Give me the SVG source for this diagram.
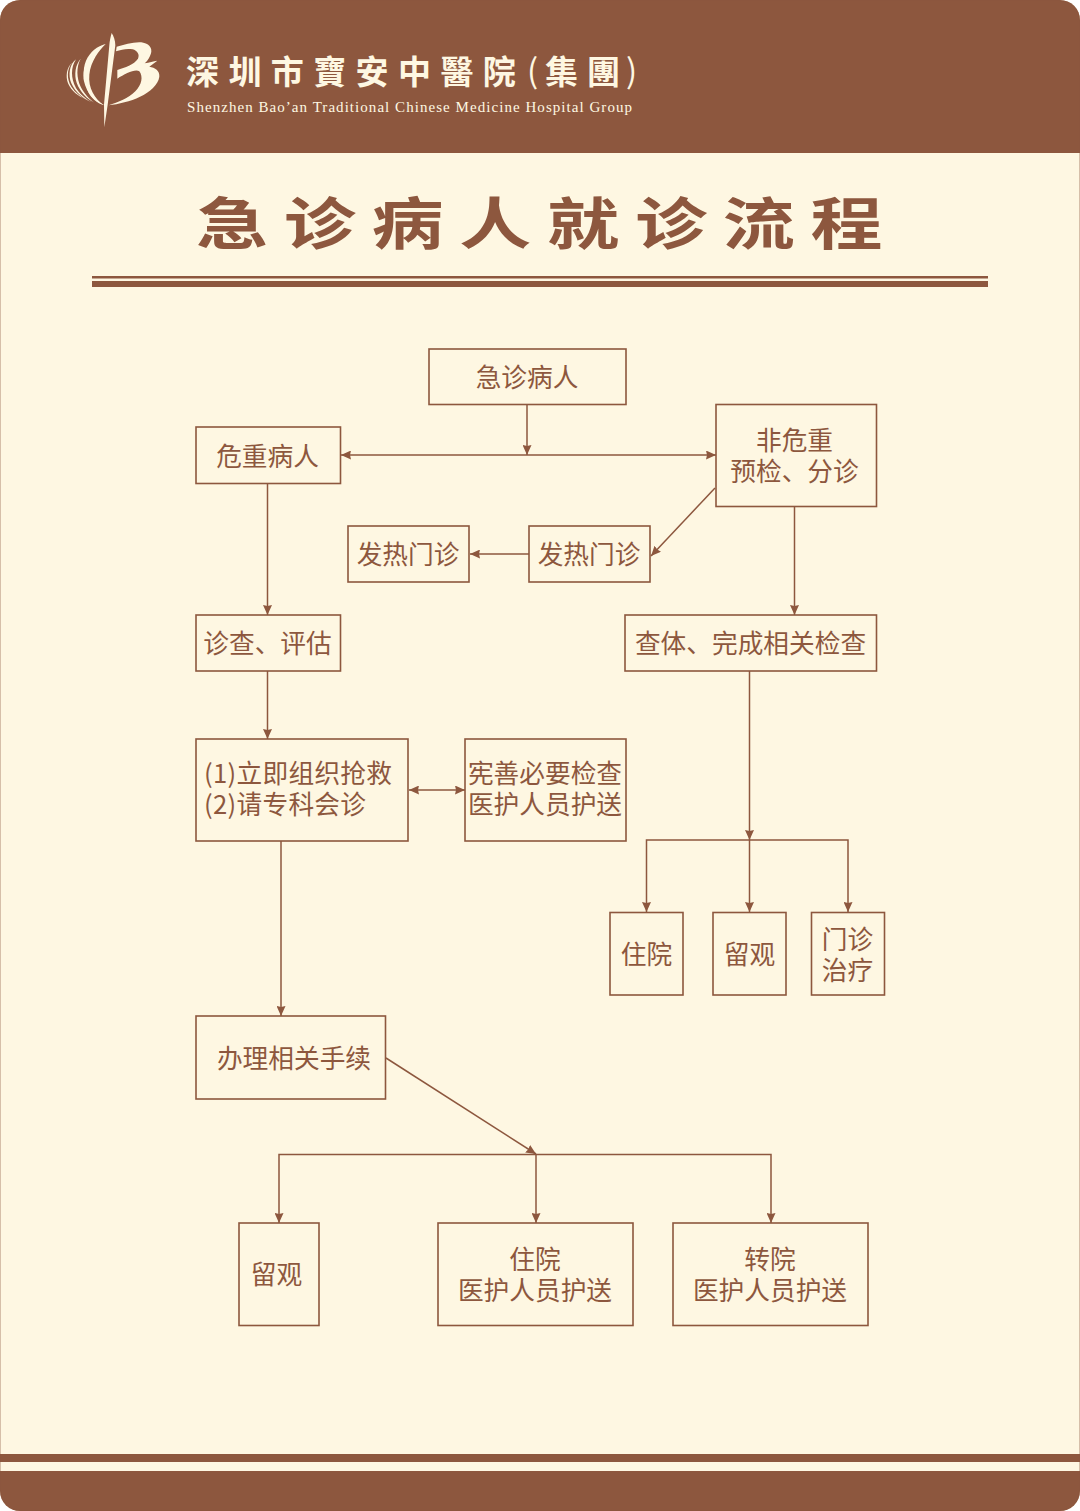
<svg xmlns="http://www.w3.org/2000/svg" width="1080" height="1511" viewBox="0 0 1080 1511">
<style>
.b{fill:none;stroke:#8d573e;stroke-width:1.6}
.t{font-family:"Noto Sans CJK SC","Noto Sans",sans-serif;font-size:25.7px;fill:#8d573e;text-anchor:middle}
.c{fill:none;stroke:#8d573e;stroke-width:1.5}
.w{fill:#fef7e2}
.h{font-family:"Noto Sans CJK TC","Noto Sans CJK SC",sans-serif;font-size:33px;fill:#fef7e2}
</style>
<defs>
<marker id="a" viewBox="0 0 10 9" refX="10" refY="4.500" markerWidth="10" markerHeight="9" markerUnits="userSpaceOnUse" orient="auto-start-reverse"><path d="M0 0L10 4.500L0 9L1 4.500Z" fill="#8d573e"/></marker>
<clipPath id="card"><rect x="0" y="0" width="1080" height="1511" rx="20"/></clipPath>
</defs>
<rect width="1080" height="1511" fill="#fff"/>
<g clip-path="url(#card)">
<rect width="1080" height="1511" fill="#fef7e2"/>
<rect width="1080" height="153" fill="#8d573e"/>
<rect y="1454" width="1080" height="8" fill="#8d573e"/>
<rect y="1471" width="1080" height="40" fill="#8d573e"/>
</g>
<rect x=".5" y=".5" width="1079" height="1510" rx="20" fill="none" stroke="#8d573e" stroke-opacity=".35"/>
<g id="logo" class="w" transform="translate(60 28) scale(.3333)">
<path d="M155 15C161 24 166 38 166 52L143 230L133 298L132 230L148 52C149 38 152 25 155 15Z"/>
<path d="M170 56C195 50 225 40 250 44C272 48 280 66 270 84C266 93 260 101 254 106C268 104 280 100 292 98C284 104 276 110 268 116C285 118 300 128 298 146C295 170 270 192 240 206C212 220 175 228 146 232C175 222 205 212 226 190C246 170 250 146 238 130C225 122 195 138 172 152L172 126C195 118 222 110 234 92C240 80 232 68 218 64C202 61 184 64 168 70Z"/>
<path d="M137 48C112 54 90 72 78 98C66 128 70 160 88 188C100 206 116 222 132 232C112 226 92 210 84 190C72 158 78 118 98 86C108 70 122 56 137 48Z"/>
<path d="M137 48C118 66 92 100 88 140C84 180 104 212 132 232C104 222 80 196 72 160C64 118 90 66 137 48Z"/>
<path d="M62 92C48 118 50 150 62 176C72 196 88 214 104 224C82 214 60 192 50 164C42 140 46 110 62 92Z"/>
<path d="M48 94C32 118 32 152 48 180C58 196 76 212 94 222C72 214 46 194 34 166C24 142 28 110 48 94Z"/>
<path d="M36 104C20 124 20 152 34 176C46 194 62 206 78 214C56 206 34 190 24 166C16 144 20 118 36 104Z"/>
</g>
<g id="header">
<text class="h" x="186" y="84" style="font-weight:700;letter-spacing:9.4px">深圳市寶安中醫院</text>
<text class="h" x="527" y="83">(</text>
<text class="h" x="545" y="84" style="font-weight:700;letter-spacing:9px">集團</text>
<text class="h" x="626" y="83">)</text>
<text x="187" y="112" textLength="445" lengthAdjust="spacing" style="font-family:'Liberation Serif',serif;font-size:15px" fill="#fef7e2">Shenzhen Bao’an Traditional Chinese Medicine Hospital Group</text>
</g>
<g id="title">
<text transform="translate(196 244) scale(1 .78)" style="font-family:'Noto Sans CJK SC',sans-serif;font-size:72px;font-weight:700;letter-spacing:15.800px" fill="#8d573e">急诊病人就诊流程</text>
<rect x="92" y="276" width="896" height="2.500" fill="#8d573e"/>
<rect x="92" y="281" width="896" height="6" fill="#8d573e"/>
</g>
<g id="connectors">
<path class="c" d="M527 405V455" marker-end="url(#a)"/>
<path class="c" d="M341 455H716" marker-start="url(#a)" marker-end="url(#a)"/>
<path class="c" d="M267.500 484V615" marker-end="url(#a)"/>
<path class="c" d="M715 488L651 556" marker-end="url(#a)"/>
<path class="c" d="M529 554H470" marker-end="url(#a)"/>
<path class="c" d="M794.500 507V615" marker-end="url(#a)"/>
<path class="c" d="M267.500 671V739" marker-end="url(#a)"/>
<path class="c" d="M409 790H465" marker-start="url(#a)" marker-end="url(#a)"/>
<path class="c" d="M749.500 671V840" marker-end="url(#a)"/>
<path class="c" d="M646.500 912V840H848V912" marker-end="url(#a)" marker-start="url(#a)"/>
<path class="c" d="M749.500 840V912" marker-end="url(#a)"/>
<path class="c" d="M281 841V1016" marker-end="url(#a)"/>
<path class="c" d="M386 1058L536 1154" marker-end="url(#a)"/>
<path class="c" d="M279 1223V1154.500H771V1223" marker-end="url(#a)" marker-start="url(#a)"/>
<path class="c" d="M536 1154.500V1223" marker-end="url(#a)"/>
</g>
<g id="n1"><rect class="b" x="429" y="349" width="197" height="55.500"/><text class="t" x="527" y="386.500">急诊病人</text></g>
<g id="n2"><rect class="b" x="196" y="427" width="144.500" height="56.500"/><text class="t" x="267.500" y="465.500">危重病人</text></g>
<g id="n3"><rect class="b" x="716" y="404.500" width="160.500" height="102"/><text class="t"><tspan x="794.500" y="450">非危重</tspan><tspan x="794.500" y="481">预检、分诊</tspan></text></g>
<g id="n4"><rect class="b" x="348" y="526" width="121" height="56"/><text class="t" x="408" y="563.500">发热门诊</text></g>
<g id="n5"><rect class="b" x="529" y="526" width="121" height="56"/><text class="t" x="589" y="563.500">发热门诊</text></g>
<g id="n6"><rect class="b" x="196" y="615" width="144.500" height="56"/><text class="t" x="267.500" y="652.500">诊查、评估</text></g>
<g id="n7"><rect class="b" x="625" y="615" width="251.500" height="56"/><text class="t" x="750.500" y="652.500">查体、完成相关检查</text></g>
<g id="n8"><rect class="b" x="196" y="739" width="212" height="102"/><text class="t" style="text-anchor:start"><tspan x="204" y="783" textLength="188">(1)立即组织抢救</tspan><tspan x="204" y="814" textLength="162">(2)请专科会诊</tspan></text></g>
<g id="n9"><rect class="b" x="465" y="739" width="161" height="102"/><text class="t"><tspan x="545" y="783">宪善必要检查</tspan><tspan x="545" y="814">医护人员护送</tspan></text></g>
<g id="n10"><rect class="b" x="610" y="912.500" width="73" height="82.500"/><text class="t" x="646.500" y="963.500">住院</text></g>
<g id="n11"><rect class="b" x="713" y="912.500" width="73" height="82.500"/><text class="t" x="749.500" y="963.500">留观</text></g>
<g id="n12"><rect class="b" x="811.500" y="912.500" width="73" height="82.500"/><text class="t"><tspan x="847.500" y="948.500">门诊</tspan><tspan x="847.500" y="979.500">治疗</tspan></text></g>
<g id="n13"><rect class="b" x="196" y="1016" width="189.500" height="83"/><text class="t" x="294" y="1067.500">办理相关手续</text></g>
<g id="n14"><rect class="b" x="239" y="1223" width="80" height="102.500"/><text class="t" x="276.500" y="1283.500">留观</text></g>
<g id="n15"><rect class="b" x="438" y="1223" width="195" height="102.500"/><text class="t"><tspan x="535" y="1269">住院</tspan><tspan x="535" y="1300">医护人员护送</tspan></text></g>
<g id="n16"><rect class="b" x="673" y="1223" width="195" height="102.500"/><text class="t"><tspan x="770" y="1269">转院</tspan><tspan x="770" y="1300">医护人员护送</tspan></text></g>
</svg>
